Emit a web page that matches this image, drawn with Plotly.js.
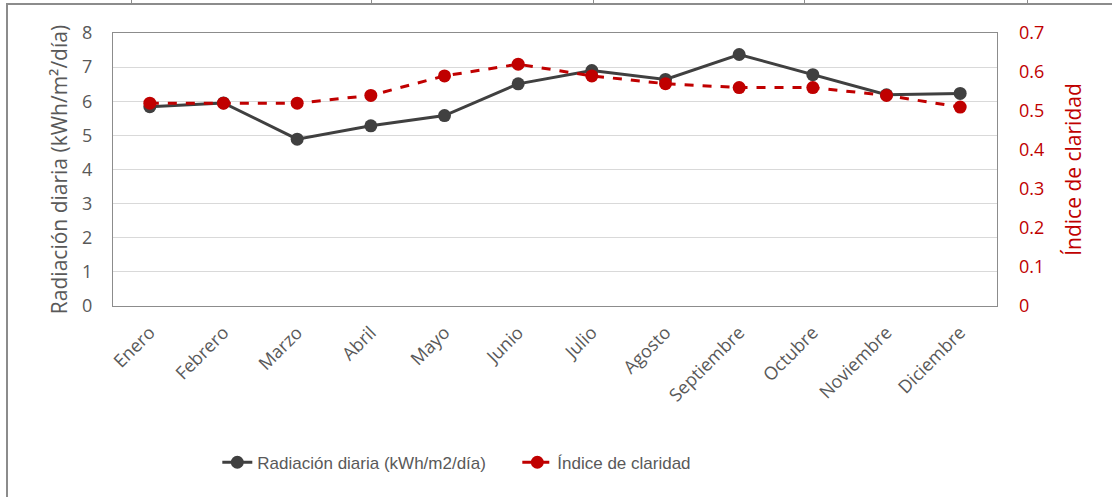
<!DOCTYPE html>
<html>
<head>
<meta charset="utf-8">
<script src="https://cdn.plot.ly/plotly-3.0.1.min.js"></script>
<style>
  html, body { margin: 0; padding: 0; background: #fff; }
  #wrap { position: relative; width: 1112px; height: 497px; overflow: hidden; }
  #frame { position: absolute; left: 6px; top: 3px; width: 1110px; height: 500px;
           border-left: 2px solid #8c8c8c; border-top: 2px solid #8c8c8c; box-sizing: border-box; }
  .tk { position: absolute; top: 0; width: 1px; height: 4px; background: #8c8c8c; }
  #chart { position: absolute; left: 0; top: 0; width: 1112px; height: 497px; }
</style>
</head>
<body>
<div id="wrap">
  <div id="frame"></div>
  <div class="tk" style="left:131px"></div>
  <div class="tk" style="left:371px"></div>
  <div class="tk" style="left:593px"></div>
  <div class="tk" style="left:804px"></div>
  <div class="tk" style="left:1027px"></div>
  <div id="chart"></div>
</div>
<script>
const months = ["Enero","Febrero","Marzo","Abril","Mayo","Junio","Julio","Agosto","Septiembre","Octubre","Noviembre","Diciembre"];
const radiacion = [5.84, 5.95, 4.89, 5.28, 5.58, 6.51, 6.90, 6.64, 7.37, 6.78, 6.19, 6.23];
const claridad = [0.52, 0.52, 0.52, 0.54, 0.59, 0.62, 0.59, 0.57, 0.56, 0.56, 0.54, 0.51];

const FONT = "'Open Sans', 'DejaVu Sans', sans-serif";
const GREY = "#595959";
const RED = "#C00000";

const traces = [
  {
    x: months, y: radiacion, name: "Radiación diaria (kWh/m2/día)",
    type: "scatter", mode: "lines+markers",
    line: { color: "#404040", width: 3 },
    marker: { color: "#404040", size: 13 },
    yaxis: "y"
  },
  {
    x: months, y: claridad, name: "Índice de claridad",
    type: "scatter", mode: "lines+markers",
    line: { color: RED, width: 3, dash: "dash" },
    marker: { color: RED, size: 13 },
    yaxis: "y2"
  }
];

const layout = {
  width: 1112, height: 497,
  margin: { l: 113, r: 115, t: 33, b: 191 },
  paper_bgcolor: "rgba(0,0,0,0)",
  plot_bgcolor: "#fff",
  font: { family: FONT, color: GREY },
  showlegend: true,
  legend: {
    orientation: "h", x: 0.118, xanchor: "left", y: -0.574, yanchor: "middle",
    font: { family: "'Liberation Sans', sans-serif", size: 17, color: GREY },
    entrywidth: 255, entrywidthmode: "pixels", traceorder: "normal"
  },
  xaxis: {
    type: "category", range: [-0.5, 11.5],
    tickangle: -45, tickfont: { size: 18, color: GREY },
    showgrid: false, showline: true, mirror: true, linecolor: "#8c8c8c", linewidth: 1,
    ticks: "", ticklabelstandoff: 8, fixedrange: true
  },
  yaxis: {
    range: [0, 8], dtick: 1, tick0: 0,
    tickfont: { size: 18, color: GREY },
    showgrid: true, gridcolor: "#d9d9d9", gridwidth: 1,
    showline: true, mirror: true, linecolor: "#8c8c8c", linewidth: 1,
    zeroline: false, ticks: "", ticklabelstandoff: 16,
    title: { text: "Radiación diaria (kWh/m²/día)", font: { size: 21, color: GREY }, standoff: 8 }
  },
  yaxis2: {
    overlaying: "y", side: "right",
    range: [0, 0.7], dtick: 0.1, tick0: 0,
    tickfont: { size: 18, color: RED },
    showgrid: false, zeroline: false, showline: false, ticks: "", ticklabelstandoff: 21,
    title: { text: "Índice de claridad", font: { size: 21, color: RED }, standoff: 22 }
  }
};

Plotly.newPlot("chart", traces, layout, { displayModeBar: false, staticPlot: true });
</script>
</body>
</html>
